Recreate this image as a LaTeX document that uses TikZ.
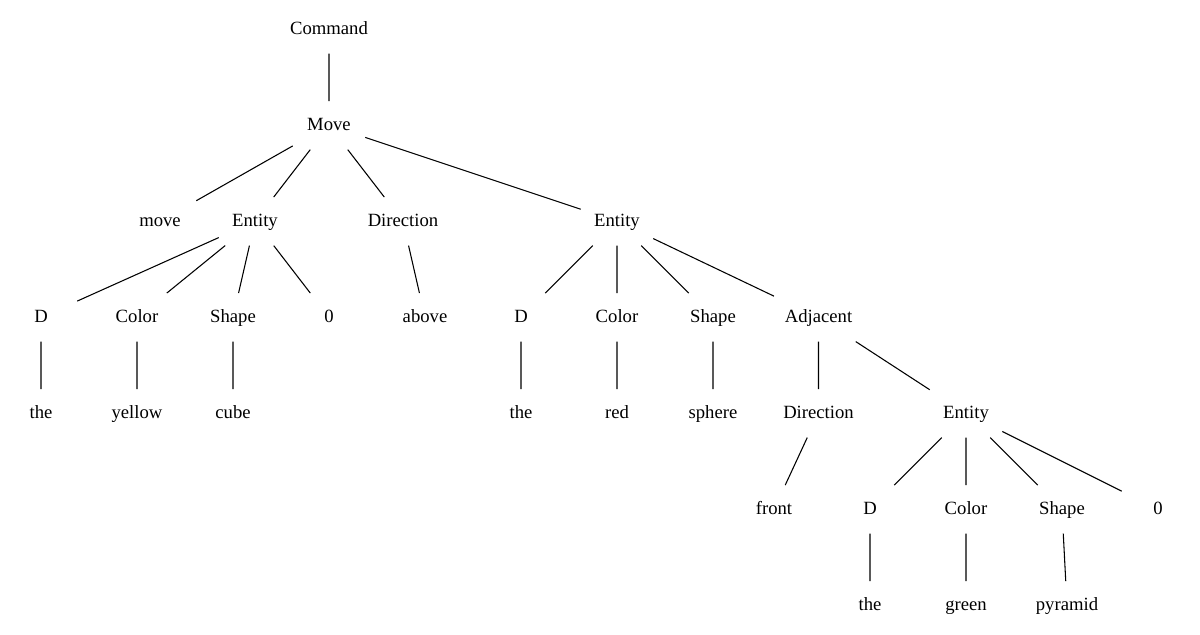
\documentclass[tikz,border=0pt]{standalone}
\usepackage{fontspec}
\setmainfont{Liberation Serif}
\begin{document}
\begin{tikzpicture}[x=0.75pt,y=-0.75pt,
  lbl/.style={rectangle,inner xsep=7.92pt,inner ysep=2pt,minimum width=54pt,
    minimum height=36pt,text height=10.5pt,text depth=3pt,
    font=\fontsize{14pt}{16pt}\selectfont},
  edge/.style={draw=black,line width=0.8pt}]
\useasboundingbox (0,0) rectangle (1200,635);
% rank rows
\def\ra{29.33}\def\rb{125.33}\def\rc{221.33}\def\rd{317.33}
\def\re{413.33}\def\rf{509.33}\def\rg{605.33}
% rank 0-1
\node[lbl] (cmd) at (329,\ra) {Command};
\node[lbl] (mv) at (329,\rb) {Move};
% rank 2
\node[lbl] (word) at (160,\rc) {move};
\node[lbl] (ent1) at (255,\rc) {Entity};
\node[lbl] (dir1) at (403,\rc) {Direction};
\node[lbl] (ent2) at (617,\rc) {Entity};
% rank 3
\node[lbl] (d1) at (41,\rd) {D};
\node[lbl] (col1) at (137,\rd) {Color};
\node[lbl] (shp1) at (233,\rd) {Shape};
\node[lbl] (zero1) at (329,\rd) {0};
\node[lbl] (above) at (425,\rd) {above};
\node[lbl] (d2) at (521,\rd) {D};
\node[lbl] (col2) at (617,\rd) {Color};
\node[lbl] (shp2) at (713,\rd) {Shape};
\node[lbl] (adj) at (818.5,\rd) {Adjacent};
% rank 4
\node[lbl] (the1) at (41,\re) {the};
\node[lbl] (yellow) at (137,\re) {yellow};
\node[lbl] (cube) at (233,\re) {cube};
\node[lbl] (the2) at (521,\re) {the};
\node[lbl] (red) at (617,\re) {red};
\node[lbl] (sphere) at (713,\re) {sphere};
\node[lbl] (dir2) at (818.5,\re) {Direction};
\node[lbl] (ent3) at (966,\re) {Entity};
% rank 5
\node[lbl] (front) at (774,\rf) {front};
\node[lbl] (d3) at (870,\rf) {D};
\node[lbl] (col3) at (966,\rf) {Color};
\node[lbl] (shp3) at (1062,\rf) {Shape};
\node[lbl] (zero3) at (1158,\rf) {0};
% rank 6
\node[lbl] (the3) at (870,\rg) {the};
\node[lbl] (green) at (966,\rg) {green};
\node[lbl] (pyr) at (1067,\rg) {pyramid};
% tree edges
\path[edge]
  (cmd) -- (mv)
  (mv) -- (word) (mv) -- (ent1) (mv) -- (dir1) (mv) -- (ent2)
  (ent1) -- (d1) (ent1) -- (col1) (ent1) -- (shp1) (ent1) -- (zero1)
  (dir1) -- (above)
  (ent2) -- (d2) (ent2) -- (col2) (ent2) -- (shp2) (ent2) -- (adj)
  (d1) -- (the1) (col1) -- (yellow) (shp1) -- (cube)
  (d2) -- (the2) (col2) -- (red) (shp2) -- (sphere)
  (adj) -- (dir2) (adj) -- (ent3)
  (dir2) -- (front)
  (ent3) -- (d3) (ent3) -- (col3) (ent3) -- (shp3) (ent3) -- (zero3)
  (d3) -- (the3) (col3) -- (green) (shp3) -- (pyr);
\end{tikzpicture}
\end{document}
